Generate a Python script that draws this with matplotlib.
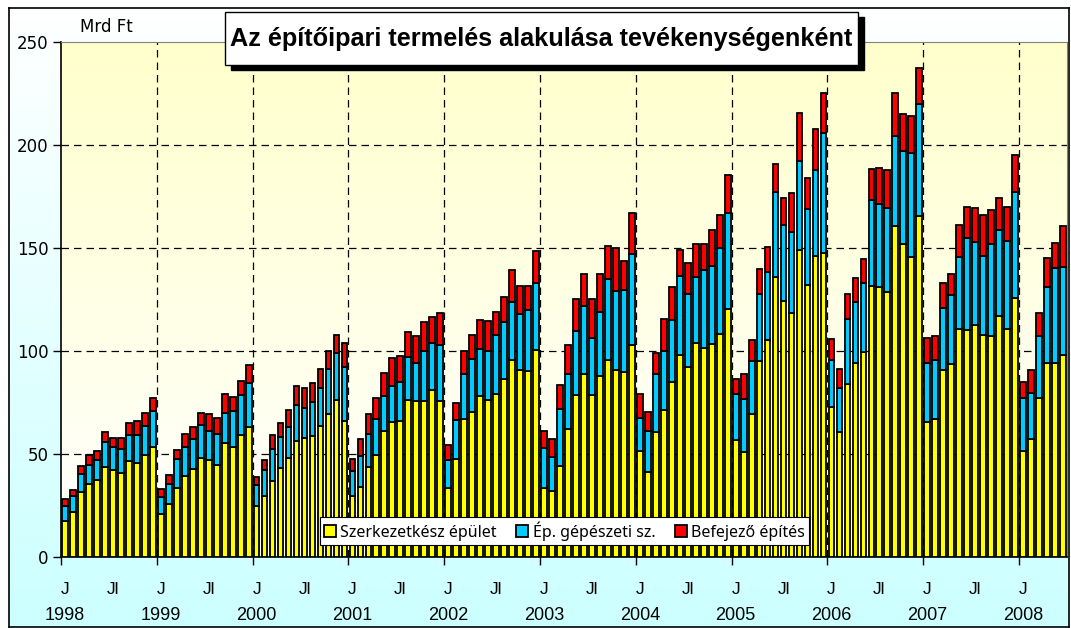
import matplotlib
matplotlib.use("Agg")
import matplotlib.pyplot as plt
import numpy as np
from matplotlib.patches import Rectangle

# havi adatok, Mrd Ft, 1998 január - 2008 június
szerkezetkesz = [
    17.6, 21.8, 31.5, 35.2, 37.4, 43.6, 42.4, 40.7, 46.6, 45.4, 49.4, 53.3,
    21.1, 25.6, 33.5, 39.4, 42.9, 48.2, 47.1, 44.6, 55.4, 53.6, 59.1, 63.3,
    24.8, 29.8, 36.9, 43.2, 47.9, 56.3, 58.0, 58.6, 63.8, 69.2, 76.2, 65.8,
    29.5, 34.0, 43.6, 49.6, 61.3, 65.3, 65.8, 76.4, 75.5, 75.5, 81.2, 75.5,
    33.5, 47.4, 67.0, 70.4, 78.1, 76.4, 78.9, 86.4, 95.6, 90.6, 90.1, 100.5,
    33.5, 31.8, 44.1, 62.0, 78.4, 88.8, 78.4, 87.9, 95.6, 91.0, 89.8, 102.7,
    51.3, 41.5, 60.8, 71.4, 84.8, 98.0, 92.1, 104.0, 101.5, 103.2, 108.2, 120.6,
    56.6, 50.8, 69.2, 95.1, 105.2, 135.8, 124.5, 118.3, 149.1, 132.0, 146.2, 147.4,
    72.9, 60.8, 83.9, 94.3, 99.3, 131.5, 131.2, 128.6, 160.5, 152.1, 145.4, 165.5,
    65.5, 67.2, 90.6, 93.8, 110.7, 110.2, 112.7, 107.7, 107.2, 116.9, 110.6, 125.6,
    51.6, 57.5, 77.2, 94.3, 94.3, 98.2,
]
gepeszeti = [
    7.2, 7.7, 8.9, 9.4, 9.5, 12.2, 10.9, 11.7, 12.5, 13.7, 14.3, 17.6,
    7.9, 9.6, 13.9, 14.2, 14.6, 16.0, 14.2, 15.0, 14.6, 17.3, 19.3, 21.0,
    10.0, 12.2, 15.5, 15.1, 15.4, 17.6, 14.5, 16.8, 18.4, 22.1, 22.8, 26.5,
    12.4, 15.1, 16.0, 17.6, 16.8, 17.6, 19.3, 20.9, 18.8, 24.3, 22.7, 27.2,
    13.6, 19.3, 21.8, 25.9, 22.9, 23.8, 29.1, 27.7, 28.4, 27.5, 29.7, 32.7,
    19.4, 16.9, 27.9, 26.8, 31.3, 33.1, 28.0, 31.2, 39.2, 38.1, 40.0, 44.4,
    16.2, 19.6, 28.1, 28.8, 30.1, 38.5, 35.4, 31.8, 38.0, 38.3, 41.9, 46.2,
    22.3, 25.9, 25.9, 32.4, 33.2, 41.4, 36.5, 39.3, 42.9, 36.8, 41.9, 58.3,
    22.7, 21.3, 31.8, 29.7, 33.9, 41.9, 40.2, 40.7, 44.0, 44.9, 50.6, 54.4,
    28.5, 28.4, 30.2, 33.2, 34.7, 44.7, 40.2, 38.2, 44.9, 41.9, 42.8, 51.6,
    25.6, 22.2, 30.2, 36.9, 46.1, 42.7,
]
befejezo = [
    3.3, 3.2, 4.0, 4.8, 4.7, 5.0, 4.7, 5.4, 5.9, 7.1, 6.0, 6.3,
    4.2, 4.7, 4.5, 6.0, 5.5, 5.5, 7.9, 7.9, 8.9, 7.0, 7.2, 8.8,
    4.2, 4.9, 6.7, 6.7, 7.9, 9.0, 9.7, 9.2, 9.3, 8.5, 9.0, 11.6,
    5.8, 8.0, 9.6, 9.9, 11.2, 13.9, 12.6, 12.1, 12.9, 14.3, 12.7, 15.6,
    7.5, 8.0, 11.0, 11.7, 14.2, 14.2, 10.9, 12.0, 15.2, 13.6, 11.9, 15.2,
    8.2, 8.8, 11.4, 14.2, 15.6, 15.6, 18.9, 18.4, 16.1, 20.8, 13.9, 20.1,
    11.4, 9.3, 9.9, 15.4, 16.3, 12.7, 15.2, 16.0, 12.3, 17.3, 15.9, 18.8,
    7.4, 12.1, 10.4, 12.4, 12.0, 13.4, 13.2, 19.1, 23.4, 15.1, 19.8, 19.6,
    10.1, 9.2, 12.1, 11.3, 11.7, 15.0, 17.2, 18.8, 20.5, 17.9, 18.1, 17.6,
    12.5, 11.6, 12.4, 10.4, 15.9, 14.8, 16.4, 20.1, 16.4, 15.6, 16.3, 18.1,
    7.9, 11.3, 11.2, 13.9, 12.0, 19.6,
]
evek = [str(y) for y in range(1998, 2009)]
sorozat_nevek = ["Szerkezetkész épület", "Ép. gépészeti sz.", "Befejező építés"]
szinek = ["#FFFF00", "#00CCFF", "#FF0000"]

W, H = 1071, 628
fig = plt.figure(figsize=(W / 100, H / 100), dpi=100)
fig.patch.set_facecolor("white")

# diagramterület: fehérből világoskékbe
bg = fig.add_axes([9 / W, 1 / H, 1060 / W, 619 / H], zorder=0)
grad = np.linspace(0, 1, 256).reshape(-1, 1)
bg_cmap = matplotlib.colors.LinearSegmentedColormap.from_list("bg", ["#FFFFFF", "#CCFFFF"])
bg.imshow(grad, cmap=bg_cmap, aspect="auto", extent=[0, 1, 0, 1], origin="upper")
bg.set_xticks([])
bg.set_yticks([])
for s in bg.spines.values():
    s.set_color("black")
    s.set_linewidth(1.2)

ax = fig.add_axes([61 / W, 1 - 557 / H, 1006 / W, 515 / H], zorder=1)
ax.set_facecolor("none")

n = len(szerkezetkesz)
x = np.arange(n)
ax.set_xlim(-0.5, n - 0.5)
ax.set_ylim(0, 250)

# rajzterület: halványsárga színátmenet
pa_cmap = matplotlib.colors.LinearSegmentedColormap.from_list("pa", ["#FFFFCC", "#FFFFFF"])
ax.imshow(grad, cmap=pa_cmap, aspect="auto", extent=[-0.5, n - 0.5, 0, 250],
          origin="upper", zorder=0)

y1 = np.array(szerkezetkesz)
y2 = np.array(gepeszeti)
y3 = np.array(befejezo)
bw = 0.72
ax.bar(x, y1, bw, color=szinek[0], edgecolor="black", linewidth=1.3, label=sorozat_nevek[0], zorder=3)
ax.bar(x, y2, bw, bottom=y1, color=szinek[1], edgecolor="black", linewidth=1.3, label=sorozat_nevek[1], zorder=3)
ax.bar(x, y3, bw, bottom=y1 + y2, color=szinek[2], edgecolor="black", linewidth=1.3, label=sorozat_nevek[2], zorder=3)

# rácsvonalak
for v in [50, 100, 150, 200]:
    ax.axhline(v, color="black", lw=0.9, ls=(0, (6, 4)), zorder=1)
year_bounds = [-0.5 + 12 * j for j in range(len(evek))]
for xb in year_bounds[1:]:
    ax.axvline(xb, color="black", lw=0.9, ls=(0, (6, 4)), zorder=1)

ax.set_yticks([0, 50, 100, 150, 200, 250])
ax.tick_params(axis="y", length=6, width=1, pad=3, labelsize=12, colors="black")
for lab in ax.get_yticklabels():
    lab.set_fontfamily("DejaVu Sans")
ax.set_xticks(year_bounds)
ax.set_xticklabels([])
ax.tick_params(axis="x", length=6, width=1)

for side in ["top", "right"]:
    ax.spines[side].set_color("#808080")
for side in ["left", "bottom"]:
    ax.spines[side].set_color("black")
    ax.spines[side].set_linewidth(1.2)

# hónap- és évfeliratok
tr = ax.get_xaxis_transform()
for j, ev in enumerate(evek):
    jan = 12 * j
    ax.text(jan, -0.064, "J", transform=tr, ha="center", va="center",
            fontsize=12.5, family="Liberation Sans")
    ax.text(jan, -0.114, ev, transform=tr, ha="center", va="center",
            fontsize=13, family="Liberation Sans")
    if jan + 6 < n:
        ax.text(jan + 6, -0.064, "Jl", transform=tr, ha="center", va="center",
                fontsize=12.5, family="Liberation Sans")

fig.text(80 / W, 1 - 27 / H, "Mrd Ft", fontsize=12, family="DejaVu Sans", va="center", ha="left")

# cím dobozban, árnyékkal
fig.add_artist(Rectangle((231 / W, 1 - 70 / H), 633 / W, 53 / H, transform=fig.transFigure,
                         facecolor="black", edgecolor="black", zorder=5))
fig.add_artist(Rectangle((225 / W, 1 - 65 / H), 633 / W, 53 / H, transform=fig.transFigure,
                         facecolor="white", edgecolor="black", lw=1.0, zorder=6))
fig.text(541.5 / W, 1 - 39 / H, "Az építőipari termelés alakulása tevékenységenként",
         fontsize=18.2, fontweight="bold", family="Liberation Sans",
         ha="center", va="center", zorder=7)

leg = ax.legend(loc="lower center", bbox_to_anchor=(0.5005, 0.008), ncol=3, frameon=True,
                fancybox=False, edgecolor="black", framealpha=1, borderpad=0.25,
                handlelength=0.75, handleheight=0.75, handletextpad=0.3,
                columnspacing=1.2, prop={"family": "Noto Sans", "size": 11.5})
leg.get_frame().set_linewidth(0.8)
leg.set_zorder(10)

fig.savefig("out.png", dpi=100)
